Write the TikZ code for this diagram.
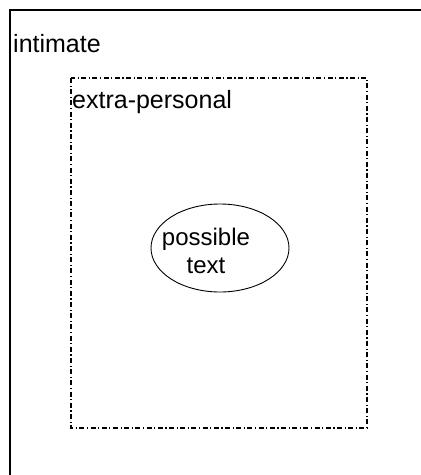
\documentclass[tikz,border=0pt]{standalone}
\usepackage{fontspec}
\setmainfont{Liberation Sans}
\usetikzlibrary{shapes.geometric}
\begin{document}
\begin{tikzpicture}[x=1pt,y=-1pt,
  zonelabel/.style={anchor=base west,inner sep=0pt,font=\fontsize{25}{28}\selectfont},
  outerzone/.style={draw,line width=2.6pt},
  innerzone/.style={draw,line width=1.6pt,dash pattern=on 5pt off 2.5pt on 1.2pt off 2.5pt},
  core/.style={draw,ellipse,line width=0.9pt,minimum width=138pt,minimum height=88pt,inner sep=0pt},
  coretext/.style={align=center,inner sep=0pt,anchor=base,font=\fontsize{24}{28}\selectfont}]
  \useasboundingbox (0,0) rectangle (421,475);
  \begin{scope}
    \clip (0,0) rectangle (421,475);
    \draw[outerzone] (10,10) rectangle (440,500);
  \end{scope}
  \node[zonelabel] (intimate) at (13,52) {intimate};
  \draw[innerzone] (71,78) rectangle (367,428);
  \node[zonelabel] (extra) at (72,108) {extra-personal};
  \node[core] (possible) at (220,248) {};
  \node[coretext] (possibletext) at (206,273) {possible\\text};
\end{tikzpicture}
\end{document}
